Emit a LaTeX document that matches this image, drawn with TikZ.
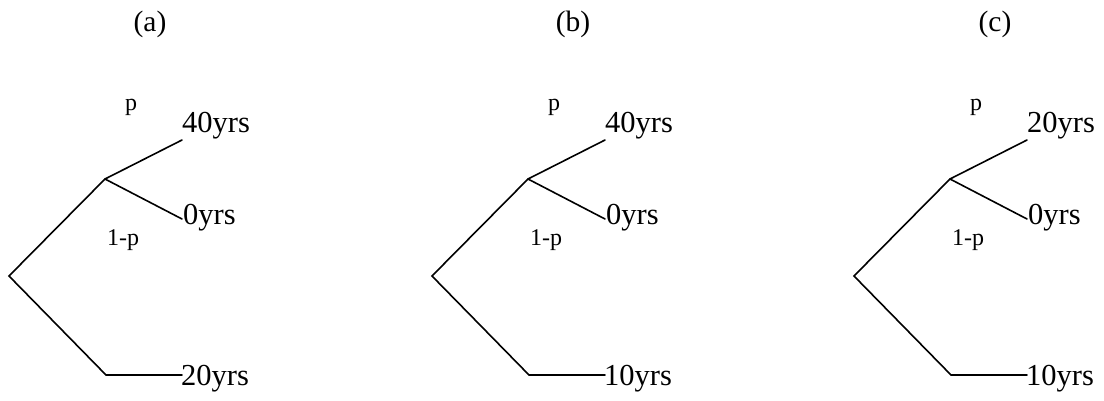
\documentclass[tikz,border=0pt]{standalone}
\usepackage{fontspec}
\setmainfont{Liberation Serif}
\tikzset{
  branch/.style={line width=1.6pt, line cap=round, line join=miter},
  outcome/.style={anchor=base west, inner sep=0pt, font=\fontsize{30.5}{36}\selectfont},
  prob/.style={anchor=base west, inner sep=0pt, font=\fontsize{24}{28}\selectfont},
  caption/.style={anchor=base, inner sep=0pt, font=\fontsize{29.5}{34}\selectfont}
}
\newcommand{\mytree}[5]{%
  \begin{scope}[xshift=#2pt]
    \coordinate (root#1) at (9,276);
    \coordinate (mid#1) at (105,179);
    \coordinate (up#1) at (182,140);
    \coordinate (low#1) at (182,219);
    \coordinate (corner#1) at (106,375);
    \coordinate (end#1) at (182,375);
    \draw[branch] (end#1) -- (corner#1) -- (root#1) -- (mid#1) -- (up#1);
    \draw[branch] (mid#1) -- (low#1);
    \node[caption] (cap#1) at (150,32) {(#5)};
    \node[prob] (p#1) at (125,111) {p};
    \node[prob] (q#1) at (107,245) {1-p};
    \node[outcome] (t#1) at (182,133) {#3};
    \node[outcome] (m#1) at (183,225) {0yrs};
    \node[outcome] (b#1) at (181,385) {#4};
  \end{scope}}
\begin{document}
\begin{tikzpicture}[x=1pt,y=-1pt]
  \useasboundingbox (0,0) rectangle (1104,401);
  \mytree{A}{0}{40yrs}{20yrs}{a}
  \mytree{B}{423}{40yrs}{10yrs}{b}
  \mytree{C}{845}{20yrs}{10yrs}{c}
\end{tikzpicture}
\end{document}
